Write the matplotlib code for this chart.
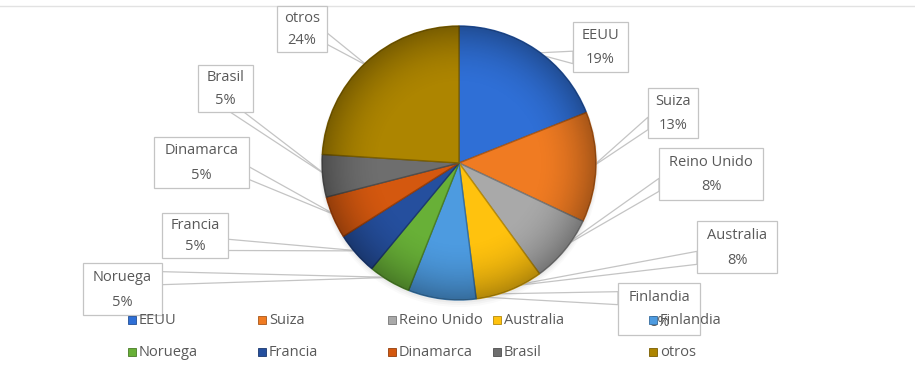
import numpy as np
import matplotlib
matplotlib.use("Agg")
import matplotlib.pyplot as plt
from matplotlib.patches import Rectangle, Polygon, Circle
import matplotlib.colors as mcolors

W, H = 915, 367

# --- data -------------------------------------------------------------
countries = ["EEUU", "Suiza", "Reino Unido", "Australia", "Finlandia",
             "Noruega", "Francia", "Dinamarca", "Brasil", "otros"]
shares = [19, 13, 8, 8, 8, 5, 5, 5, 5, 24]
colors = ["#2f6fd6", "#f07b22", "#a9a9a9", "#ffc20e", "#4d9be0",
          "#68b037", "#254f9e", "#d4580f", "#6e6e6e", "#ad8500"]

# --- layout (pixel units, y measured downwards) ------------------------
cx, cy, R = 459, 163, 137
label_boxes = {  # left, top, right, bottom
    "EEUU": (573, 22, 628, 72),
    "Suiza": (648, 88, 698, 138),
    "Reino Unido": (659, 148, 763, 200),
    "Australia": (697, 221, 777, 273),
    "Finlandia": (618, 283, 700, 335),
    "Noruega": (83, 263, 162, 315),
    "Francia": (162, 213, 228, 258),
    "Dinamarca": (154, 137, 249, 188),
    "Brasil": (198, 65, 253, 112),
    "otros": (277, 6, 327, 52),
}
legend_x = [132, 262, 392, 497, 653]
legend_y = [320, 352]

TEXT = "#595959"
LINE = "#c4c4c4"
FONT = ["Open Sans", "DejaVu Sans"]

plt.rcParams["font.family"] = FONT


def Y(y):
    return H - y


fig = plt.figure(figsize=(W / 100, H / 100), dpi=100)
ax = fig.add_axes([0, 0, 1, 1])

# faint shadow under the pie
for k, a in enumerate([0.06, 0.05, 0.04]):
    ax.add_patch(Circle((cx, Y(cy) - 2 - k), R + 1 + k, color="#808080",
                        alpha=a, lw=0, zorder=2))

wedges, _ = ax.pie(shares, colors=colors, startangle=90, counterclock=False,
                   center=(cx, Y(cy)), radius=R,
                   wedgeprops=dict(linewidth=1.0, zorder=3))
for w_, c in zip(wedges, colors):
    rgb = np.array(mcolors.to_rgb(c))
    w_.set_edgecolor(tuple(rgb * 0.72))
    w_.set_zorder(3)

# soft rim darkening for a rounded look
n = 300
g = np.linspace(-1, 1, n)
gx, gy = np.meshgrid(g, g)
rr = np.sqrt(gx ** 2 + gy ** 2)
alpha = 0.30 * np.clip((rr - 0.55) / 0.45, 0, 1) ** 2
img = np.zeros((n, n, 4))
img[..., 3] = alpha
im = ax.imshow(img, extent=(cx - R, cx + R, Y(cy) - R, Y(cy) + R),
               origin="lower", zorder=4, interpolation="bilinear")
clip = Circle((cx, Y(cy)), R, transform=ax.transData)
im.set_clip_path(clip)


def callout_base(box, tip):
    l, t, r, b = box
    w, h = r - l, b - t
    hc, vc = (l + r) / 2, (t + b) / 2
    dx, dy = tip[0] - hc, tip[1] - vc
    dz = abs(dy) - abs(dx * h / w)
    if dz > 0:
        x1 = l + w * (7 if dx > 0 else 2) / 12
        x2 = l + w * (10 if dx > 0 else 5) / 12
        yb = b if dy > 0 else t
        return [(x1, yb), (x2, yb)]
    y1 = t + h * (7 if dy > 0 else 2) / 12
    y2 = t + h * (10 if dy > 0 else 5) / 12
    xb = r if dx > 0 else l
    return [(xb, y1), (xb, y2)]


# data labels with callout pointers
total = sum(shares)
start = 0.0
for name, val in zip(countries, shares):
    frac = val / total
    mid = np.deg2rad((start + frac / 2) * 360)
    start += frac
    tip = (cx + 0.97 * R * np.sin(mid), cy - 0.97 * R * np.cos(mid))
    box = label_boxes[name]
    b0, b1 = callout_base(box, tip)
    ax.add_patch(Polygon([(b0[0], Y(b0[1])), (tip[0], Y(tip[1])),
                          (b1[0], Y(b1[1]))], closed=True, fc="white",
                         ec=LINE, lw=0.9, zorder=1))
    l, t, r, b = box
    ax.add_patch(Rectangle((l, Y(b)), r - l, b - t, fc="white", ec=LINE,
                           lw=0.9, zorder=1.5))
    hc = (l + r) / 2
    ax.text(hc, Y(t + 0.27 * (b - t)), name, ha="center", va="center",
            fontsize=10.5, color=TEXT, zorder=1.6)
    ax.text(hc, Y(t + 0.75 * (b - t)), f"{round(frac * 100)}%", ha="center",
            va="center", fontsize=10.5, color=TEXT, zorder=1.6)

# legend: two rows of five entries
for i, (name, c) in enumerate(zip(countries, colors)):
    x = legend_x[i % 5]
    y = legend_y[i // 5]
    rgb = np.array(mcolors.to_rgb(c))
    ax.add_patch(Rectangle((x - 4, Y(y) - 4), 8, 8, fc=c,
                           ec=tuple(rgb * 0.7), lw=0.6, zorder=6))
    ax.text(x + 7, Y(y), name, ha="left", va="center", fontsize=10.5,
            color=TEXT, zorder=6)

# thin rule along the top of the chart area
ax.plot([0, W], [Y(6), Y(6)], color="#e2e2e2", lw=1.0, zorder=0)

ax.set_xlim(0, W)
ax.set_ylim(0, H)
ax.set_aspect("equal")
ax.axis("off")

fig.savefig("out.png", dpi=100, facecolor="white")
